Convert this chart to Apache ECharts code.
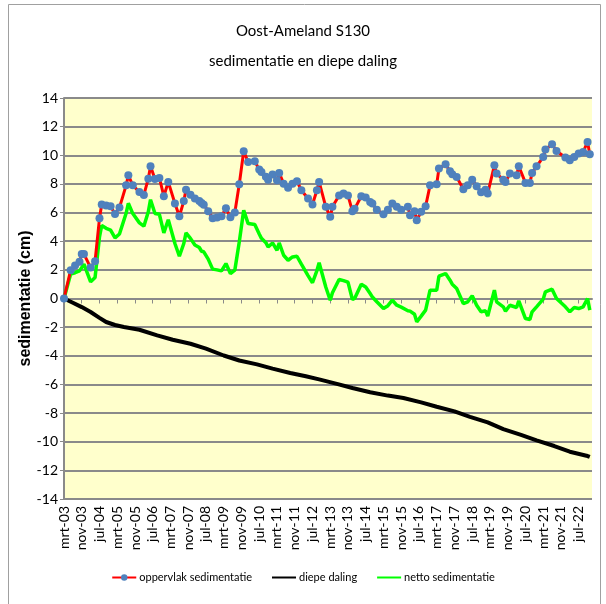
<!DOCTYPE html>
<html>
<head>
<meta charset="utf-8">
<script src="https://cdn.jsdelivr.net/npm/echarts@6/dist/echarts.min.js"></script>
<style>
  html, body { margin: 0; padding: 0; background: #ffffff; }
  #chart { width: 606px; height: 604px; }
</style>
</head>
<body>
<div id="chart"></div>
<script>
// Monthly category axis: mrt-03 ... jan-23 (index 0 = mrt-03)
const monthNames = ['jan', 'feb', 'mrt', 'apr', 'mei', 'jun', 'jul', 'aug', 'sep', 'okt', 'nov', 'dec'];
const startYear = 2003, startMonth = 2, monthCount = 239;
const categories = [];
for (let i = 0; i < monthCount; i++) {
  const m = (startMonth + i) % 12;
  const y = startYear + Math.floor((startMonth + i) / 12);
  categories.push(monthNames[m] + '-' + String(y % 100).padStart(2, '0'));
}

// [month index, cm]
const oppervlakSedimentatie = [
  [0, 0], [3, 1.98], [5, 2.3], [7, 2.56], [8, 3.1], [9, 3.1], [12, 2.16], [14, 2.6],
  [16, 5.6], [17, 6.56], [19, 6.5], [21, 6.44], [23, 5.9], [25, 6.35], [28, 7.9], [29, 8.6],
  [31, 7.9], [34, 7.44], [36, 7.23], [38, 8.37], [39, 9.23], [41, 8.35], [43, 8.42], [45, 7.14],
  [47, 8.14], [50, 6.63], [52, 5.74], [54, 6.8], [55, 7.6], [57, 7.25], [59, 6.98], [61, 6.8],
  [62, 6.67], [63, 6.55], [65, 6.1], [67, 5.6], [69, 5.65], [71, 5.75], [73, 6.3], [75, 5.67],
  [77, 6.0], [79, 7.98], [81, 10.28], [83, 9.53], [86, 9.58], [88, 9.0], [89, 8.84], [91, 8.5],
  [92, 8.3], [94, 8.65], [96, 8.26], [97, 8.77], [99, 8.02], [101, 7.74], [103, 8.02], [105, 8.19],
  [107, 7.56], [110, 6.98], [112, 6.56], [114, 7.56], [115, 8.14], [118, 6.4], [120, 5.7], [121, 6.4],
  [124, 7.2], [126, 7.33], [128, 7.2], [130, 6.1], [131, 6.26], [134, 7.14], [136, 7.05], [138, 6.74],
  [139, 6.63], [141, 6.2], [144, 5.88], [146, 6.2], [148, 6.63], [150, 6.4], [152, 6.2], [155, 6.4],
  [156, 5.81], [158, 6.1], [159, 5.47], [161, 6.05], [163, 6.44], [165, 7.9], [168, 7.98], [169, 9.07],
  [172, 9.37], [174, 8.88], [175, 8.67], [177, 8.49], [180, 7.63], [182, 7.9], [184, 8.3], [186, 7.84],
  [188, 7.42], [190, 7.6], [191, 7.33], [194, 9.3], [195, 8.72], [198, 8.3], [199, 8.14], [201, 8.72],
  [204, 8.6], [205, 9.23], [208, 8.07], [210, 8.07], [211, 8.77], [213, 9.23], [216, 9.88], [217, 10.4],
  [220, 10.77], [222, 10.3], [226, 9.84], [228, 9.65], [230, 9.88], [232, 10.12], [234, 10.23], [236, 10.93],
  [237, 10.07]
];

const diepeDaling = [
  [0, 0], [4, -0.3], [8, -0.6], [12, -0.94], [16, -1.35], [19, -1.64], [23, -1.85], [27, -1.99],
  [34, -2.18], [42, -2.57], [49, -2.88], [57, -3.16], [64, -3.5], [72, -3.98], [79, -4.33], [87, -4.6],
  [94, -4.9], [102, -5.2], [109, -5.43], [115, -5.65], [123, -5.96], [130, -6.25], [138, -6.55], [146, -6.78],
  [153, -6.95], [161, -7.25], [168, -7.56], [176, -7.88], [183, -8.26], [191, -8.65], [198, -9.12], [206, -9.52],
  [213, -9.9], [221, -10.3], [228, -10.7], [236, -11.0], [237, -11.06]
];

const nettoSedimentatie = [
  [0, 0], [3, 1.7], [5, 1.8], [7, 1.93], [9, 2.4], [12, 1.16], [14, 1.47], [16, 4.3],
  [17, 5.1], [19, 4.9], [21, 4.77], [23, 4.23], [25, 4.5], [28, 5.95], [29, 6.65], [31, 5.93],
  [34, 5.28], [36, 5.05], [38, 6.05], [39, 6.9], [41, 5.93], [43, 5.88], [45, 4.58], [47, 5.5],
  [50, 3.84], [52, 2.95], [54, 3.84], [55, 4.58], [57, 4.2], [59, 3.73], [61, 3.56], [62, 3.3],
  [63, 3.26], [65, 2.75], [67, 2.05], [69, 2.0], [71, 1.93], [73, 2.44], [75, 1.74], [77, 1.98],
  [79, 3.95], [81, 6.16], [83, 5.23], [86, 5.16], [88, 4.5], [89, 4.2], [91, 3.9], [92, 3.6],
  [94, 3.88], [96, 3.37], [97, 3.88], [99, 3.02], [101, 2.67], [103, 2.9], [105, 2.95], [107, 2.4],
  [110, 1.6], [112, 1.1], [114, 1.95], [115, 2.5], [118, 0.8], [120, -0.12], [121, 0.4], [124, 1.33],
  [126, 1.25], [128, 1.14], [130, -0.07], [131, 0.0], [134, 1.0], [136, 0.81], [138, 0.35], [139, 0.1],
  [141, -0.23], [144, -0.7], [146, -0.5], [148, -0.12], [150, -0.47], [152, -0.6], [155, -0.85], [156, -0.88],
  [158, -1.1], [159, -1.63], [161, -1.23], [163, -0.81], [165, 0.58], [168, 0.58], [169, 1.56], [172, 1.74],
  [174, 1.28], [175, 1.0], [177, 0.7], [180, -0.35], [182, -0.23], [184, 0.19], [186, -0.47], [188, -0.93],
  [190, -0.86], [191, -1.23], [194, 0.58], [195, -0.23], [198, -0.58], [199, -0.88], [201, -0.47], [204, -0.63],
  [205, -0.16], [208, -1.4], [210, -1.47], [211, -0.93], [213, -0.58], [216, -0.05], [217, 0.47], [220, 0.65],
  [222, 0.0], [226, -0.58], [228, -0.93], [230, -0.63], [232, -0.7], [234, -0.58], [236, 0.0], [237, -0.81]
];

const FONT = "Lato, 'Liberation Sans', Arial, sans-serif";
const GRID_GRAY = '#8a8a8a';

const chart = echarts.init(document.getElementById('chart'), null, { renderer: 'canvas' });

chart.setOption({
  animation: false,
  backgroundColor: '#ffffff',
  graphic: [{
    type: 'rect',
    shape: { x: 8.5, y: 4.5, width: 592, height: 610 },
    style: { fill: 'none', stroke: '#a0a0a0', lineWidth: 1 },
    silent: true,
    z: -1
  }],
  title: {
    text: 'Oost-Ameland S130\nsedimentatie en diepe daling',
    left: 'center',
    top: 11,
    textStyle: {
      fontFamily: FONT,
      fontSize: 15,
      fontWeight: 'normal',
      color: '#000',
      lineHeight: 30
    }
  },
  legend: {
    bottom: 16,
    left: 'center',
    itemGap: 19,
    itemWidth: 24,
    itemHeight: 8,
    textStyle: { fontFamily: FONT, fontSize: 11, color: '#000', padding: [0, 0, 0, -2] },
    data: [
      { name: 'oppervlak sedimentatie' },
      { name: 'diepe daling', itemStyle: { opacity: 0 } },
      { name: 'netto sedimentatie', itemStyle: { opacity: 0 } }
    ]
  },
  grid: {
    left: 64,
    right: 14,
    top: 98,
    bottom: 105,
    show: true,
    backgroundColor: '#ffffcc',
    borderWidth: 0
  },
  xAxis: [
    {
      type: 'category',
      data: categories,
      boundaryGap: false,
      position: 'bottom',
      axisLine: { onZero: true, lineStyle: { color: GRID_GRAY, width: 2 } },
      axisTick: { show: true, interval: 7, length: 5, lineStyle: { color: GRID_GRAY, width: 1 } },
      axisLabel: { show: false },
      splitLine: { show: false }
    },
    {
      type: 'category',
      data: categories,
      boundaryGap: false,
      position: 'bottom',
      axisLine: { show: false, onZero: false },
      axisTick: { show: false },
      axisLabel: {
        show: true,
        interval: 7,
        rotate: 90,
        margin: 7,
        fontFamily: FONT,
        fontSize: 14,
        color: '#000'
      },
      splitLine: { show: false }
    }
  ],
  yAxis: {
    type: 'value',
    min: -14,
    max: 14,
    interval: 2,
    name: 'sedimentatie (cm)',
    nameLocation: 'middle',
    nameGap: 30,
    nameMoveOverlap: false,
    nameTextStyle: {
      fontFamily: "'Liberation Sans', Arial, sans-serif",
      fontSize: 16,
      fontWeight: 'bold',
      color: '#000'
    },
    axisLine: { show: true, lineStyle: { color: GRID_GRAY, width: 2 } },
    axisTick: { show: true, length: 4, lineStyle: { color: GRID_GRAY } },
    axisLabel: { fontFamily: FONT, fontSize: 14, color: '#000', margin: 6 },
    splitLine: { show: true, lineStyle: { color: GRID_GRAY, width: 2 } }
  },
  series: [
    {
      name: 'oppervlak sedimentatie',
      type: 'line',
      xAxisIndex: 0,
      data: oppervlakSedimentatie,
      symbol: 'circle',
      symbolSize: 8,
      showAllSymbol: true,
      lineStyle: { color: '#ff0000', width: 3 },
      itemStyle: { color: '#4f81bd' },
      z: 5
    },
    {
      name: 'diepe daling',
      type: 'line',
      xAxisIndex: 0,
      data: diepeDaling,
      symbol: 'none',
      lineStyle: { color: '#000000', width: 4 },
      itemStyle: { color: '#000000' },
      z: 3
    },
    {
      name: 'netto sedimentatie',
      type: 'line',
      xAxisIndex: 0,
      data: nettoSedimentatie,
      symbol: 'none',
      lineStyle: { color: '#00ff00', width: 3.5 },
      itemStyle: { color: '#00ff00' },
      z: 4
    }
  ]
});
</script>
</body>
</html>
